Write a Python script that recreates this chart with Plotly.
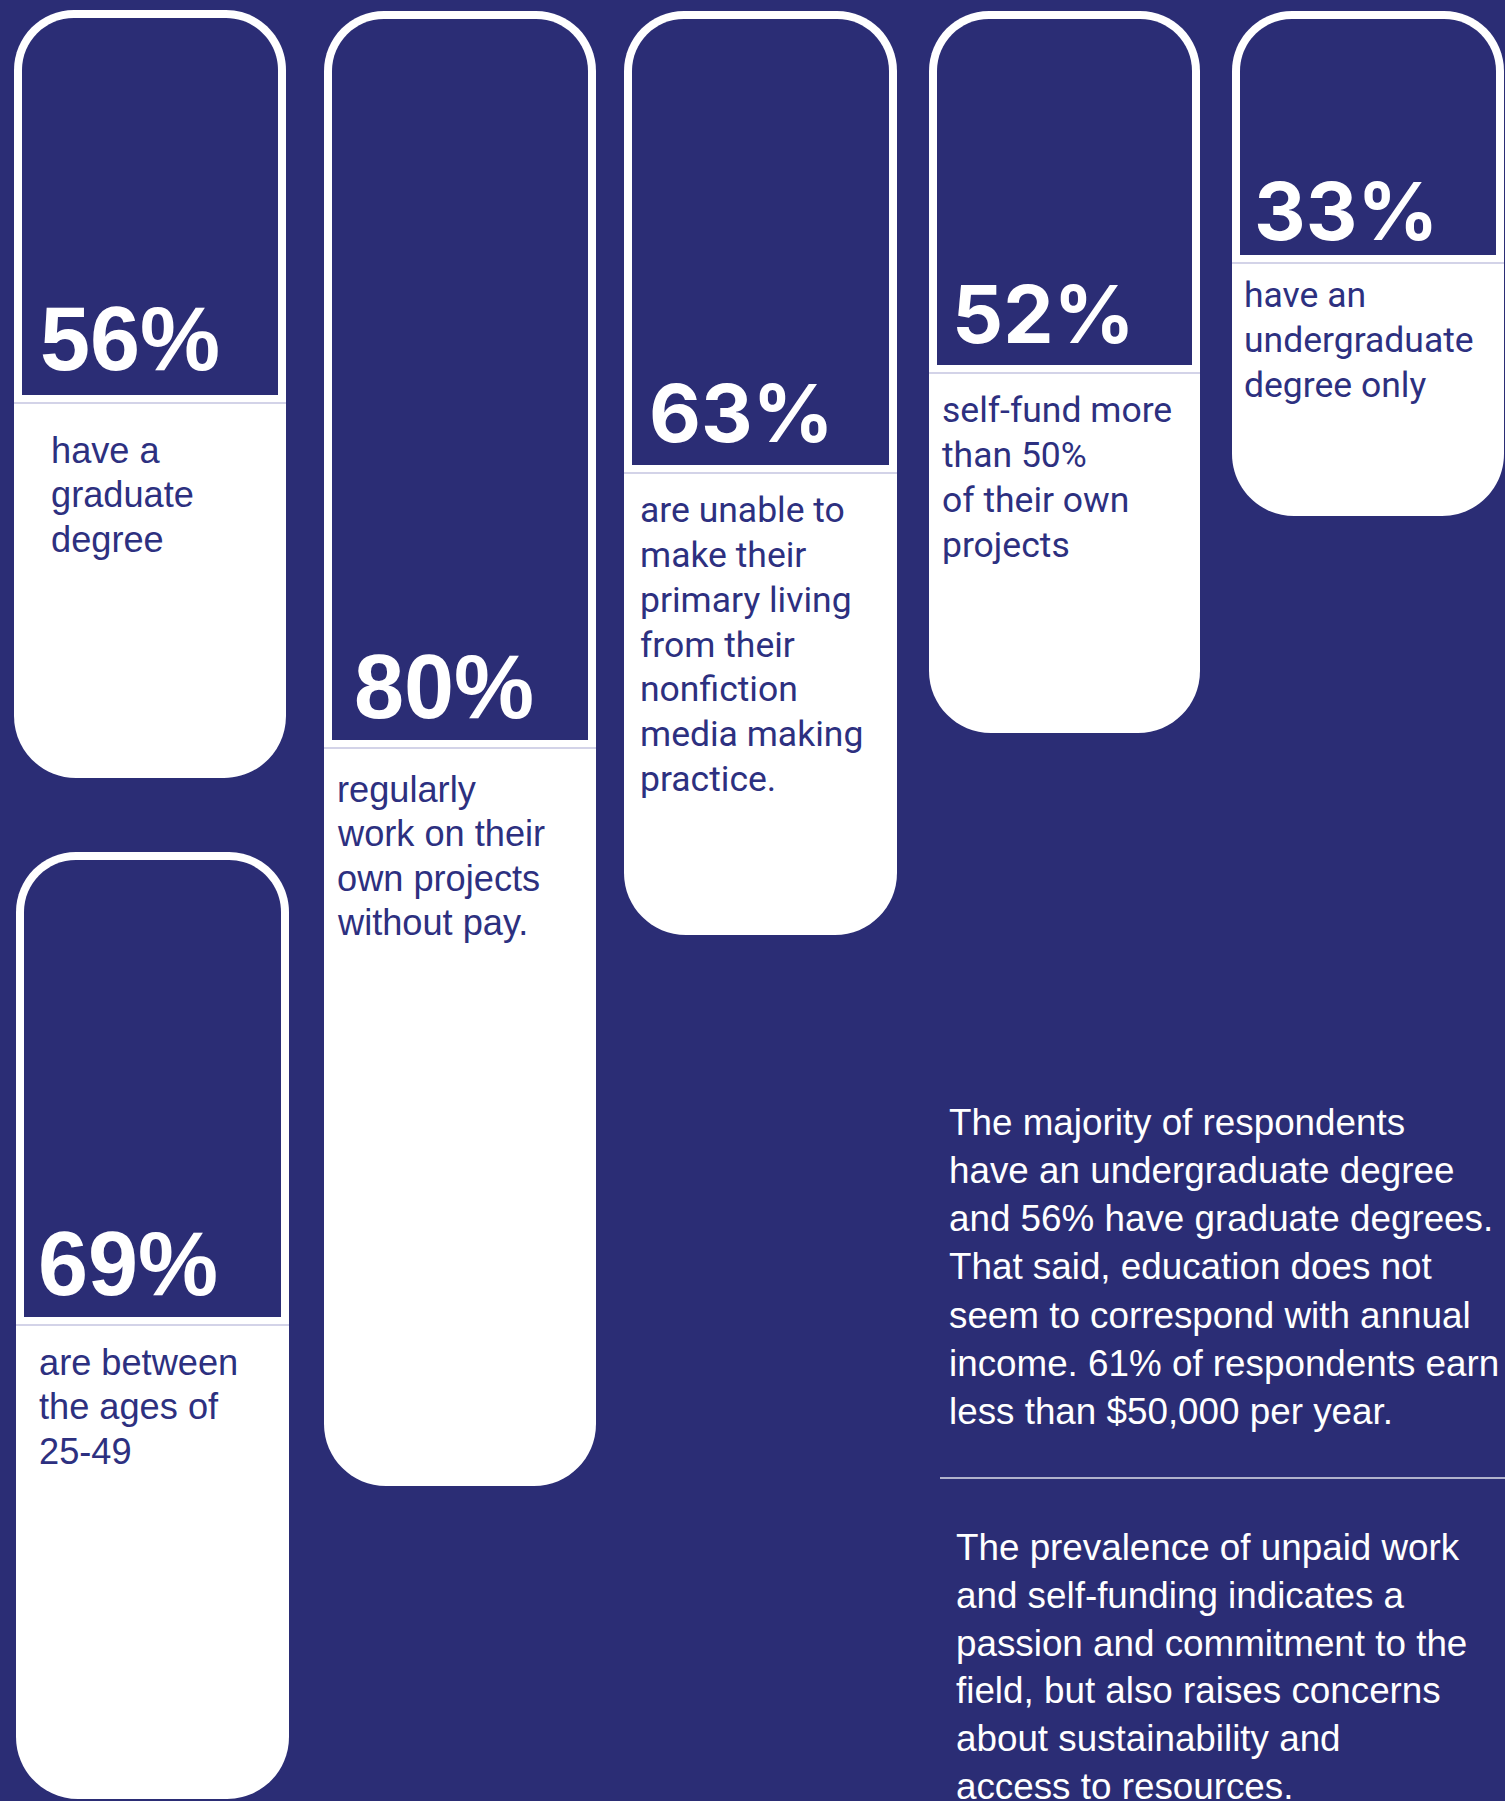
import plotly.graph_objects as go

# ---- content -------------------------------------------------------------
values = [56, 80, 63, 52, 33, 69]
captions = [
    ["have a", "graduate", "degree"],
    ["regularly", "work on their", "own projects", "without pay."],
    ["are unable to", "make their", "primary living", "from their",
     "nonfiction", "media making", "practice."],
    ["self-fund more", "than 50%", "of their own", "projects"],
    ["have an", "undergraduate", "degree only"],
    ["are between", "the ages of", "25-49"],
]
paragraph_1 = [
    "The majority of respondents",
    "have an undergraduate degree",
    "and 56% have graduate degrees.",
    "That said, education does not",
    "seem to correspond with annual",
    "income. 61% of respondents earn",
    "less than $50,000 per year.",
]
paragraph_2 = [
    "The prevalence of unpaid work",
    "and self-funding indicates a",
    "passion and commitment to the",
    "field, but also raises concerns",
    "about sustainability and",
    "access to resources.",
]

# ---- layout of the cards (x0, y0, x1, y1, bottom of the dark panel) -----
card_boxes = [
    (14, 10, 286, 778, 395),
    (324, 11, 596, 1486, 740),
    (624, 11, 897, 935, 465),
    (929, 11, 1200, 733, 365),
    (1232, 11, 1504, 516, 255),
    (16, 852, 289, 1799, 1317),
]
number_pos = [(39, 370), (353, 718), (648, 442), (951, 343), (1253, 240), (37, 1295)]
caption_pos = [(50, 463), (336, 802), (639, 522), (941, 422), (1243, 307), (38, 1375)]
card_style = ["wide", "wide", "narrow", "narrow", "narrow", "wide"]

W, H = 1505, 1801
NAVY = "#2b2d75"
INK = "#2d3080"
WHITE = "#ffffff"
LAVENDER = "#d3d3e8"

FONTS = {
    # family, size, offset of the line box centre above the baseline (em), weight
    "wide_num": ("Liberation Sans", 90, 0.3465, "bold"),
    "wide_txt": ("Liberation Sans", 36.2, 0.3465, "normal"),
    "narrow_num": ("Inter", 80, 0.3638, "bold"),
    "narrow_txt": ("Roboto", 35.5, 0.3418, "normal"),
    "para": ("Liberation Sans", 36.8, 0.3465, "normal"),
}
LINE_GAP = {"wide": 44.5, "narrow": 44.9}


def rounded_path(x0, y0, x1, y1, rt, rb):
    k = 0.5523
    p = [f"M{x0 + rt},{y0}", f"L{x1 - rt},{y0}"]
    if rt:
        p.append(f"C{x1 - rt + k * rt},{y0} {x1},{y0 + rt - k * rt} {x1},{y0 + rt}")
    p.append(f"L{x1},{y1 - rb}")
    if rb:
        p.append(f"C{x1},{y1 - rb + k * rb} {x1 - rb + k * rb},{y1} {x1 - rb},{y1}")
    p.append(f"L{x0 + rb},{y1}")
    if rb:
        p.append(f"C{x0 + rb - k * rb},{y1} {x0},{y1 - rb + k * rb} {x0},{y1 - rb}")
    p.append(f"L{x0},{y0 + rt}")
    if rt:
        p.append(f"C{x0},{y0 + rt - k * rt} {x0 + rt - k * rt},{y0} {x0 + rt},{y0}")
    p.append("Z")
    return " ".join(p)


shapes = []
annotations = []


def add_line_text(text, x, baseline, style, color):
    fam, size, off, weight = FONTS[style]
    annotations.append(dict(
        x=x, y=baseline - off * size, xref="x", yref="y",
        text=text, showarrow=False, xanchor="left", yanchor="middle",
        borderpad=0, font=dict(family=fam, size=size, color=color, weight=weight),
    ))


R_OUT_TOP, R_OUT_BOT, INSET = 60, 62, 8

for i, v in enumerate(values):
    x0, y0, x1, y1, pb = card_boxes[i]
    shapes.append(dict(type="path", path=rounded_path(x0, y0, x1, y1, R_OUT_TOP, R_OUT_BOT),
                       fillcolor=WHITE, line=dict(width=0), layer="below"))
    shapes.append(dict(type="path",
                       path=rounded_path(x0 + INSET, y0 + INSET, x1 - INSET, pb,
                                         R_OUT_TOP - INSET, 0),
                       fillcolor=NAVY, line=dict(width=0), layer="below"))
    shapes.append(dict(type="line", x0=x0, x1=x1, y0=pb + INSET, y1=pb + INSET,
                       line=dict(color=LAVENDER, width=2), layer="below"))

    kind = card_style[i]
    nx, nb = number_pos[i]
    add_line_text(f"{v}%", nx, nb, kind + "_num", WHITE)
    cx, cb = caption_pos[i]
    for j, line in enumerate(captions[i]):
        add_line_text(line, cx, cb + j * LINE_GAP[kind], kind + "_txt", INK)

for j, line in enumerate(paragraph_1):
    add_line_text(line, 948, 1135 + j * 48.2, "para", WHITE)

shapes.append(dict(type="line", x0=940, x1=W, y0=1478, y1=1478,
                   line=dict(color="rgba(255,255,255,0.85)", width=1.5)))

for j, line in enumerate(paragraph_2):
    add_line_text(line, 955, 1560 + j * 47.9, "para", WHITE)

fig = go.Figure()
fig.update_layout(
    width=W, height=H,
    margin=dict(l=0, r=0, t=0, b=0),
    paper_bgcolor=NAVY, plot_bgcolor=NAVY,
    xaxis=dict(range=[0, W], visible=False, fixedrange=True),
    yaxis=dict(range=[H, 0], visible=False, fixedrange=True),
    shapes=shapes, annotations=annotations,
    showlegend=False,
)
fig.write_html("out.html", config={"displayModeBar": False})
